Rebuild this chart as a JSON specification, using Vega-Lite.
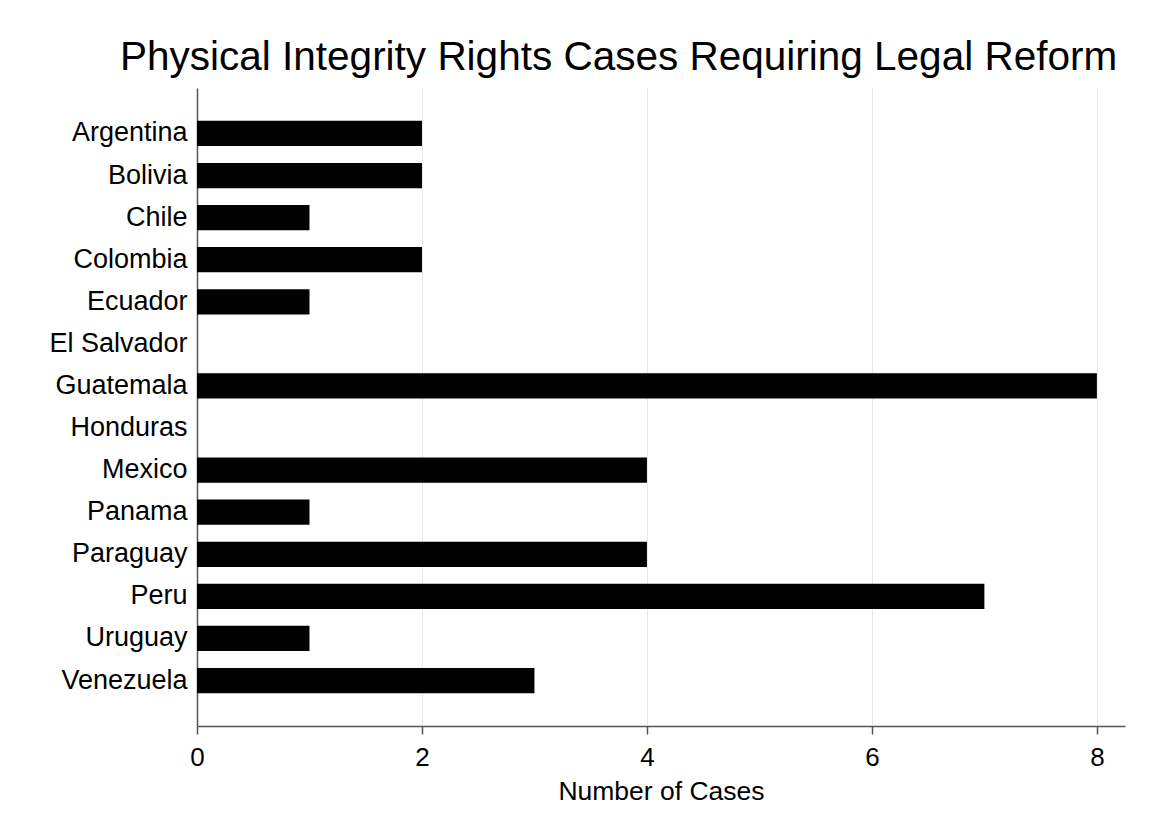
{
  "$schema": "https://vega.github.io/schema/vega-lite/v6.json",
  "width": 928,
  "height": 638,
  "autosize": {"type": "none"},
  "padding": {"left": 197, "top": 88, "right": 26, "bottom": 111},
  "background": "white",
  "title": {
    "text": "Physical Integrity Rights Cases Requiring Legal Reform",
    "anchor": "start",
    "frame": "group",
    "dx": -77,
    "offset": 10,
    "fontSize": 40.5,
    "fontWeight": "normal",
    "font": "Liberation Sans",
    "color": "black"
  },
  "data": {
    "values": [
      {"country": "Argentina", "cases": 2},
      {"country": "Bolivia", "cases": 2},
      {"country": "Chile", "cases": 1},
      {"country": "Colombia", "cases": 2},
      {"country": "Ecuador", "cases": 1},
      {"country": "El Salvador", "cases": 0},
      {"country": "Guatemala", "cases": 8},
      {"country": "Honduras", "cases": 0},
      {"country": "Mexico", "cases": 4},
      {"country": "Panama", "cases": 1},
      {"country": "Paraguay", "cases": 4},
      {"country": "Peru", "cases": 7},
      {"country": "Uruguay", "cases": 1},
      {"country": "Venezuela", "cases": 3}
    ]
  },
  "mark": {"type": "bar", "color": "black"},
  "encoding": {
    "y": {
      "field": "country",
      "type": "nominal",
      "sort": null,
      "scale": {"paddingInner": 0.4, "paddingOuter": 0.78},
      "axis": {
        "title": null,
        "ticks": false,
        "grid": false,
        "labelFontSize": 27,
        "labelFont": "Liberation Sans",
        "labelColor": "black",
        "labelPadding": 10,
        "domainColor": "#555",
        "domainWidth": 1.5
      }
    },
    "x": {
      "field": "cases",
      "type": "quantitative",
      "scale": {"domain": [0, 8.25], "nice": false},
      "axis": {
        "values": [0, 2, 4, 6, 8],
        "title": "Number of Cases",
        "titleFont": "Liberation Sans",
        "titleFontSize": 26.5,
        "titleFontWeight": "normal",
        "titleColor": "black",
        "titlePadding": 8,
        "labelFontSize": 26,
        "labelFont": "Liberation Sans",
        "labelColor": "black",
        "labelPadding": 10,
        "labelFlush": false,
        "tickSize": 8,
        "tickColor": "#555",
        "tickWidth": 1.5,
        "domainColor": "#555",
        "domainWidth": 1.5,
        "grid": true,
        "gridColor": "#e8e8e8",
        "gridWidth": 1
      }
    }
  },
  "config": {"view": {"stroke": null}}
}
